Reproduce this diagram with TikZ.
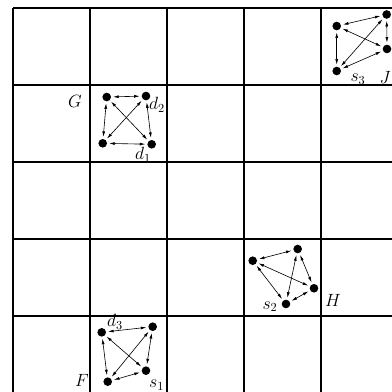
\documentclass[tikz,border=0pt]{standalone}
\usetikzlibrary{arrows.meta}

\begin{document}
\begin{tikzpicture}[
  x=2.2cm, y=2.2cm,
  every node/.style={inner sep=1pt},
  vertex/.style={circle, fill=black, minimum size=7pt, inner sep=0pt},
  gridline/.style={draw, line width=1pt},
  link/.style={draw, line width=0.5pt, {Latex[length=4.5pt,width=2.4pt]}-{Latex[length=4.5pt,width=2.4pt]},
    shorten >=1.5pt, shorten <=1.5pt},
  tag/.style={inner sep=0.5pt, font=\Large}]

  % ---- the page, cut off at the right and at the bottom -------------------
  \clip (-0.169,0.013) rectangle (4.922,5.104);

  % ---- the five by five board ---------------------------------------------
  \draw[gridline, step=2.2cm] (0,0) grid (5,5);

  % ---- cluster J, top right cell ------------------------------------------
  \node[vertex] (j1) at (4.204,4.766) {};
  \node[vertex] (j2) at (4.853,4.916) {};
  \node[vertex] (j3) at (4.857,4.468) {};
  \node[vertex] (j4) at (4.204,4.182) {};
  \draw[link] (j1) -- (j2);
  \draw[link] (j2) -- (j3);
  \draw[link] (j1) -- (j3);
  \draw[link] (j2) -- (j4);
  \draw[link] (j1) -- (j4);
  \draw[link] (j3) -- (j4);
  \node[tag] (tags3) at (4.481,4.078) {$s_3$};
  \node[tag] (tagJ) at (4.835,4.095) {$J$};

  % ---- cluster G, second row ----------------------------------------------
  \node[vertex] (g1) at (1.217,3.844) {};
  \node[vertex] (g2) at (1.727,3.857) {};
  \node[vertex] (g3) at (1.165,3.243) {};
  \node[vertex] (g4) at (1.801,3.230) {};
  \draw[link] (g1) -- (g2);
  \draw[link] (g1) -- (g3);
  \draw[link] (g1) -- (g4);
  \draw[link] (g2) -- (g3);
  \draw[link] (g2) -- (g4);
  \draw[link] (g3) -- (g4);
  \node[tag] (tagG) at (0.805,3.792) {$G$};
  \node[tag] (tagd2) at (1.870,3.740) {$d_2$};
  \node[tag] (tagd1) at (1.688,3.091) {$d_1$};

  % ---- cluster H, fourth row ----------------------------------------------
  \node[vertex] (h1) at (3.113,1.718) {};
  \node[vertex] (h2) at (3.697,1.870) {};
  \node[vertex] (h3) at (3.909,1.360) {};
  \node[vertex] (h4) at (3.545,1.156) {};
  \draw[link] (h1) -- (h2);
  \draw[link] (h1) -- (h3);
  \draw[link] (h1) -- (h4);
  \draw[link] (h2) -- (h4);
  \draw[link] (h2) -- (h3);
  \draw[link] (h3) -- (h4);
  \node[tag] (tags2) at (3.338,1.121) {$s_2$};
  \node[tag] (tagH) at (4.156,1.208) {$H$};

  % ---- cluster F, bottom row ----------------------------------------------
  \node[vertex] (f1) at (1.152,0.788) {};
  \node[vertex] (f2) at (1.814,0.861) {};
  \node[vertex] (f3) at (1.727,0.290) {};
  \node[vertex] (f4) at (1.230,0.147) {};
  \draw[link] (f1) -- (f2);
  \draw[link] (f1) -- (f4);
  \draw[link] (f1) -- (f3);
  \draw[link] (f2) -- (f4);
  \draw[link] (f2) -- (f3);
  \draw[link] (f3) -- (f4);
  \node[tag] (tagd3) at (1.325,0.926) {$d_3$};
  \node[tag] (tags1) at (1.866,0.104) {$s_1$};
  \node[tag] (tagF) at (0.896,0.169) {$F$};
\end{tikzpicture}
\end{document}
